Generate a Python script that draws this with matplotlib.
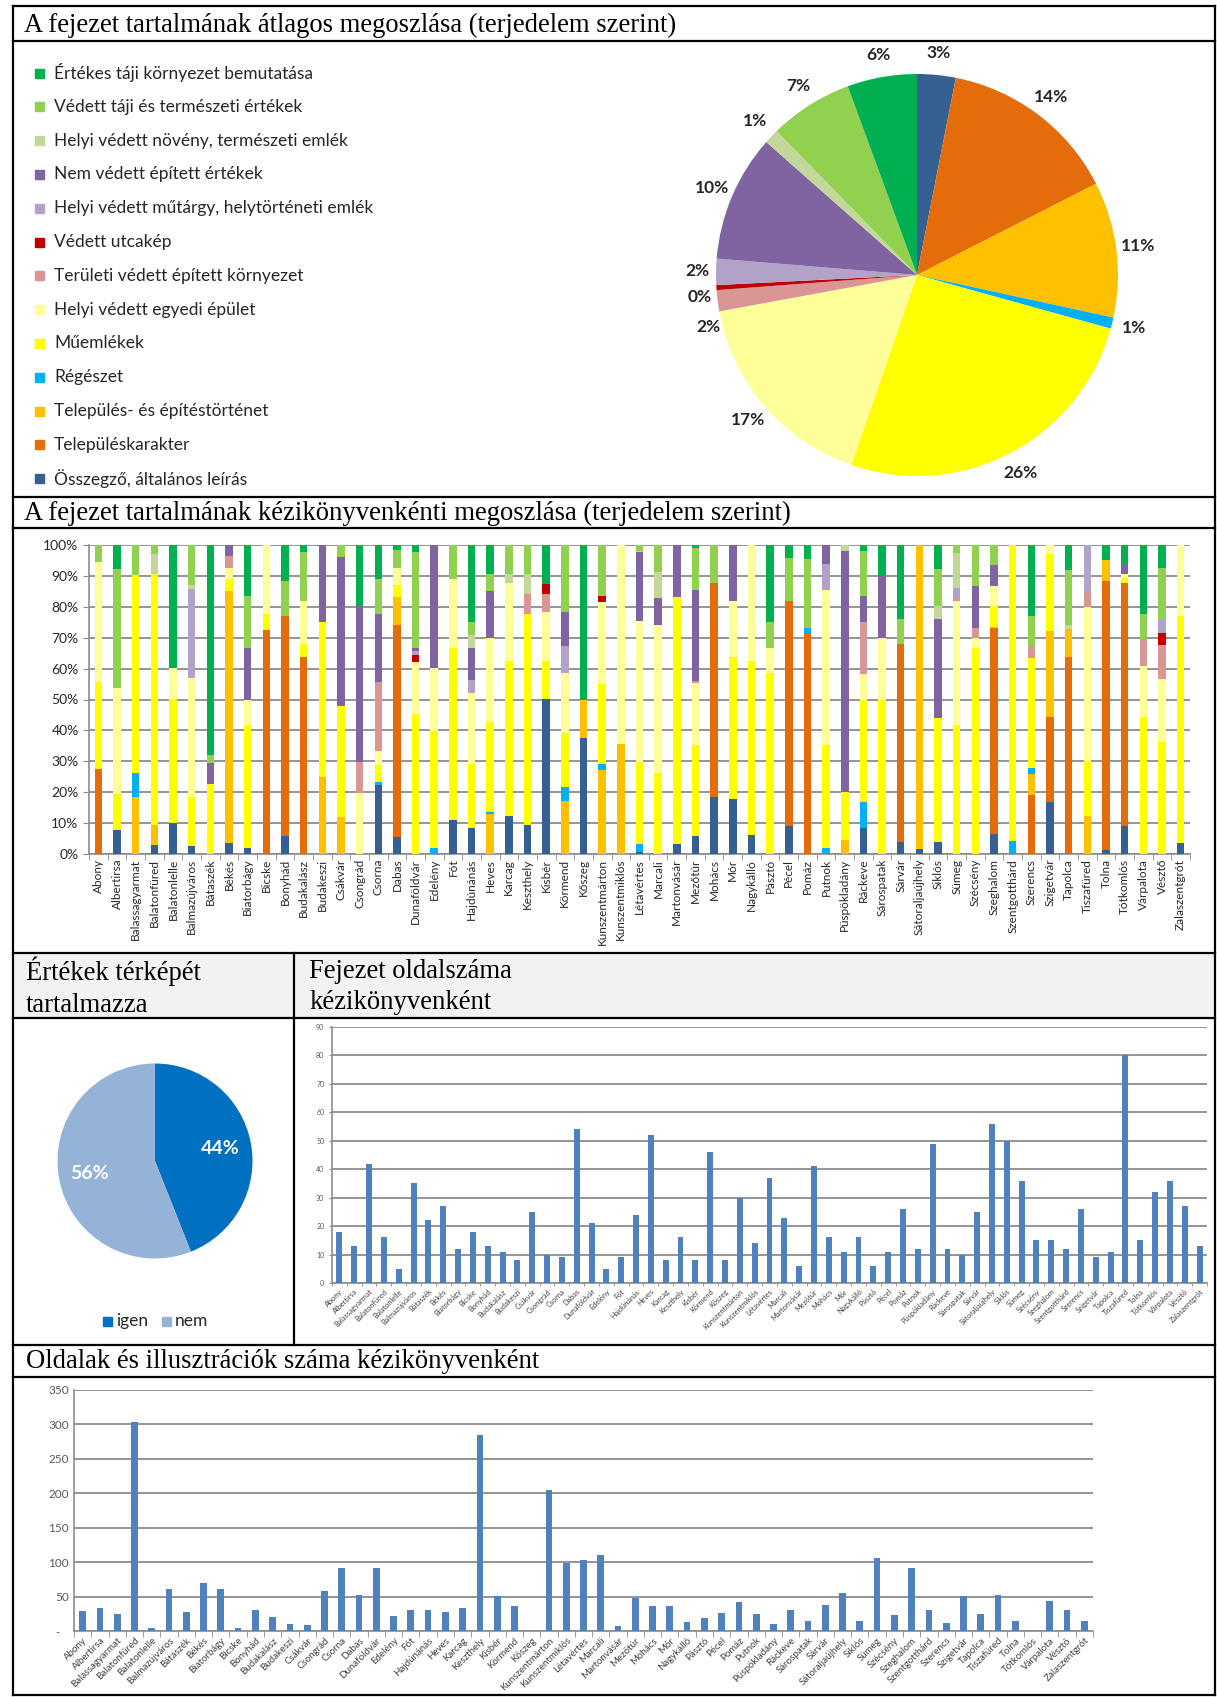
import matplotlib
matplotlib.use("Agg")
import matplotlib.pyplot as plt
from matplotlib.patches import Rectangle
from matplotlib.ticker import FuncFormatter
import numpy as np

W, H = 1217, 1697
plt.rcParams['font.family'] = ['Lato', 'DejaVu Sans']
SERIF = ['Liberation Serif', 'DejaVu Serif']
GRID = '#8c8c8c'
BAR_BLUE = '#4f81bd'
TEXT = '#262626'

towns = ['Abony', 'Albertirsa', 'Balassagyarmat', 'Balatonfüred', 'Balatonlelle',
         'Balmazújváros', 'Bátaszék', 'Békés', 'Biatorbágy', 'Bicske',
         'Bonyhád', 'Budakalász', 'Budakeszi', 'Csákvár', 'Csongrád',
         'Csorna', 'Dabas', 'Dunaföldvár', 'Edelény', 'Fót',
         'Hajdúnánás', 'Heves', 'Karcag', 'Keszthely', 'Kisbér',
         'Körmend', 'Kőszeg', 'Kunszentmárton', 'Kunszentmiklós', 'Létavértes',
         'Marcali', 'Martonvásár', 'Mezőtúr', 'Mohács', 'Mór',
         'Nagykálló', 'Pásztó', 'Pécel', 'Pomáz', 'Putnok',
         'Püspökladány', 'Ráckeve', 'Sárospatak', 'Sárvár', 'Sátoraljaújhely',
         'Siklós', 'Sümeg', 'Szécsény', 'Szeghalom', 'Szentgotthárd',
         'Szerencs', 'Szigetvár', 'Tapolca', 'Tiszafüred', 'Tolna',
         'Tótkomlós', 'Várpalota', 'Vésztő', 'Zalaszentgrót']

# content categories, bottom of the stack first
categories = ['Összegző, általános leírás', 'Településkarakter',
              'Település- és építéstörténet', 'Régészet', 'Műemlékek',
              'Helyi védett egyedi épület', 'Területi védett épített környezet',
              'Védett utcakép', 'Helyi védett műtárgy, helytörténeti emlék',
              'Nem védett épített értékek', 'Helyi védett növény, természeti emlék',
              'Védett táji és természeti értékek', 'Értékes táji környezet bemutatása']
cat_colors = ['#376092', '#e46c0a', '#ffc000', '#00b0f0', '#ffff00',
              '#ffff99', '#da9694', '#c00000', '#b3a2c7', '#8064a2',
              '#c4d79b', '#92d050', '#00b050']

# average share (%) per category, same order
avg_share = [3.1, 14.4, 10.9, 0.9, 26.0, 16.8, 1.7, 0.4, 2.1, 10.2, 1.2, 6.7, 5.6]

# share (%) of each category per handbook
osszegzo = [0, 7.7, 0, 3.0, 9.9, 2.7, 0, 3.6, 1.9, 0,
            5.7, 0, 0, 0, 0, 22.2, 5.5, 0, 0, 10.9,
            8.4, 0, 12.4, 9.3, 50.1, 0, 37.5, 0, 0, 0.6,
            0, 3.2, 5.9, 18.6, 17.9, 6.3, 0, 9.2, 0, 0,
            0, 8.4, 0, 3.9, 1.7, 3.9, 0, 0, 6.5, 0,
            0, 16.7, 0, 0, 1.4, 9.2, 0, 0, 3.6]
telepuleskarakter = [27.6, 0, 0, 0, 0, 0, 0, 0, 0, 72.4,
                     71.3, 63.7, 0, 0, 0, 0, 68.6, 0, 0, 0,
                     0, 0, 0, 0, 0, 0, 0, 0, 0, 0,
                     0, 0, 0, 69.0, 0, 0, 0, 72.8, 71.1, 0,
                     0, 0, 0, 64.2, 0, 0, 0, 0, 66.8, 0,
                     19.2, 27.6, 63.6, 0, 87.0, 78.4, 0, 0, 0]
telepulestortenet = [0, 0, 18.4, 6.3, 0, 0, 0, 81.6, 0, 0,
                     0, 0, 25.0, 11.9, 0, 0, 9.2, 0, 0, 0,
                     0, 13.1, 0, 0, 0, 17.3, 12.5, 27.3, 35.7, 0,
                     0, 0, 0, 0, 0, 0, 0, 0, 0, 0,
                     4.6, 0, 0, 0, 98.3, 0, 0, 0, 0.3, 0,
                     6.8, 27.9, 9.3, 12.4, 6.8, 0, 0, 0, 0]
regeszet = [0, 0, 7.8, 0, 0, 0, 0, 0, 0, 0,
            0, 0, 0, 0, 0, 1.0, 0, 0, 1.9, 0,
            0, 0.6, 0, 0, 0, 4.3, 0, 1.8, 0, 2.6,
            0, 0, 0, 0, 0, 0, 0, 0, 1.9, 1.9,
            0, 8.3, 0, 0, 0, 0, 0, 0, 0, 4.1,
            1.8, 0, 0, 0, 0, 0, 0, 0, 0]
muemlekek = [28.1, 11.6, 64.2, 81.3, 40.2, 15.7, 22.6, 3.8, 39.9, 5.3,
             0, 4.3, 50.1, 35.9, 0, 5.7, 3.8, 45.3, 37.9, 55.7,
             20.7, 28.9, 50.1, 68.3, 12.4, 17.5, 0, 25.9, 0, 26.5,
             26.1, 80.1, 29.4, 0, 45.7, 56.2, 58.5, 0, 0, 33.4,
             15.6, 33.3, 50.0, 0, 0, 40.0, 41.8, 66.6, 6.5, 95.9,
             35.6, 24.9, 0, 17.6, 0, 1.6, 44.3, 36.1, 73.4]
egyedi_epulet = [38.7, 34.4, 0, 0, 10.0, 38.6, 0, 3.6, 8.2, 22.3,
                 0, 14.0, 0, 0, 19.9, 4.3, 5.5, 16.7, 20.3, 22.5,
                 23.0, 27.2, 25.1, 0, 15.7, 19.5, 0, 26.7, 64.3, 45.8,
                 48.1, 0, 20.2, 0, 18.4, 37.5, 8.1, 0, 0, 50.1,
                 0, 8.4, 19.8, 0, 0, 0, 40.2, 3.4, 6.5, 0,
                 0, 2.9, 0, 50.0, 0, 1.4, 16.7, 20.5, 23.0]
teruleti_vedett = [0, 0, 0, 0, 0, 0, 0, 3.7, 0, 0,
                   0, 0, 0, 0, 9.9, 22.4, 0, 0, 0, 0,
                   0, 0, 0, 6.7, 6.0, 0, 0, 0, 0, 0,
                   0, 0, 0.6, 0, 0, 0, 0, 0, 0, 0,
                   0, 16.7, 0, 0, 0, 0, 0.5, 3.2, 0, 0,
                   4.0, 0, 0, 5.1, 0, 0, 8.5, 11.1, 0]
utcakep = [0, 0, 0, 0, 0, 0, 0, 0, 0, 0,
           0, 0, 0, 0, 0, 0, 0, 2.3, 0, 0,
           0, 0, 0, 0, 3.3, 0, 0, 1.7, 0, 0,
           0, 0, 0, 0, 0, 0, 0, 0, 0, 0,
           0, 0, 0, 0, 0, 0, 0, 0, 0, 0,
           0, 0, 0, 0, 0, 0, 0, 3.7, 0]
mutargy = [0, 0, 0, 0, 0, 28.8, 0, 0, 0, 0,
           0, 0, 0, 0, 0, 0, 0, 1.3, 0, 0,
           4.3, 0, 0, 0, 0, 8.7, 0, 0, 0, 0,
           0, 0, 0, 0, 0, 0, 0, 0, 0, 8.3,
           0, 0, 0, 0, 0, 0, 3.7, 0, 0, 0,
           0, 0, 0, 14.9, 0, 0, 0, 4.4, 0]
nem_vedett = [0, 0, 0, 0, 0, 0, 6.9, 3.7, 16.7, 0,
              0, 0, 24.9, 48.3, 50.3, 22.1, 0, 1.1, 39.9, 0,
              10.2, 15.4, 0, 0, 0, 10.9, 0, 0, 0, 22.2,
              8.6, 16.7, 29.3, 0, 18.0, 0, 0, 0, 0, 6.3,
              77.9, 8.3, 20.2, 0, 0, 32.2, 0, 13.5, 7.0, 0,
              0, 0, 0, 0, 0, 3.1, 0, 0, 0]
noveny = [0, 0, 0, 6.5, 0, 1.3, 0, 0, 0, 0,
          0, 0, 0, 0, 0, 0, 0, 0, 0, 0,
          4.3, 0, 3.0, 6.4, 0, 0, 0, 0, 0, 0.5,
          8.6, 0, 0, 0, 0, 0, 0, 0, 0, 0,
          1.9, 0, 0, 0, 0, 4.0, 11.1, 0, 0, 0,
          0, 0, 1.1, 0, 0, 0, 0, 0, 0]
vedett_taji = [5.6, 38.6, 9.6, 2.9, 0, 12.9, 2.4, 0, 16.7, 0,
               11.5, 15.8, 0, 3.9, 0, 11.3, 5.7, 31.1, 0, 10.9,
               4.2, 5.3, 9.4, 9.3, 0, 21.8, 0, 16.6, 0, 1.8,
               8.6, 0, 13.5, 12.4, 0, 0, 8.4, 13.7, 22.4, 0,
               0, 14.7, 0, 8.0, 0, 12.1, 2.7, 13.3, 6.4, 0,
               9.6, 0, 17.9, 0, 0, 0, 8.2, 16.9, 0]
ertekes_taji = [0, 7.7, 0, 0, 39.9, 0, 68.1, 0, 16.6, 0,
                11.5, 2.2, 0, 0, 19.9, 11.0, 1.7, 2.2, 0, 0,
                24.9, 9.5, 0, 0, 12.5, 0, 50.0, 0, 0, 0,
                0, 0, 1.1, 0, 0, 0, 25.0, 4.3, 4.6, 0,
                0, 1.9, 10.0, 23.9, 0, 7.8, 0, 0, 0, 0,
                23.0, 0, 8.1, 0, 4.8, 6.3, 22.3, 7.3, 0]

shares = [osszegzo, telepuleskarakter, telepulestortenet, regeszet, muemlekek,
          egyedi_epulet, teruleti_vedett, utcakep, mutargy, nem_vedett,
          noveny, vedett_taji, ertekes_taji]

map_labels = ['igen', 'nem']
map_share = [44, 56]
map_colors = ['#0070c0', '#95b3d7']

chapter_pages = [18, 13, 42, 16, 5, 35, 22, 27, 12, 18,
                 13, 11, 8, 25, 10, 9, 54, 21, 5, 9,
                 24, 52, 8, 16, 8, 46, 8, 30, 14, 37,
                 23, 6, 41, 16, 11, 16, 6, 11, 26, 12,
                 49, 12, 10, 25, 56, 50, 36, 15, 15, 12,
                 26, 9, 11, 80, 15, 32, 36, 27, 13]

pages_and_figures = [29, 34, 24, 304, 5, 61, 27, 70, 61, 5,
                     31, 21, 10, 9, 58, 92, 52, 91, 22, 31,
                     31, 27, 34, 284, 51, 37, 0, 205, 99, 103,
                     110, 7, 48, 36, 36, 13, 19, 26, 42, 24,
                     10, 31, 15, 38, 55, 15, 106, 23, 92, 30,
                     12, 51, 24, 53, 14, 0, 43, 30, 15]


def px_axes(fig, x0, y0, x1, y1):
    return fig.add_axes([x0 / W, 1 - y1 / H, (x1 - x0) / W, (y1 - y0) / H])


def excel_style(ax, n):
    ax.set_xlim(-0.5, n - 0.5)
    ax.yaxis.grid(True, color=GRID, lw=1.3)
    ax.set_axisbelow(True)
    for side in ('top', 'right'):
        ax.spines[side].set_visible(False)
    for side in ('left', 'bottom'):
        ax.spines[side].set_color(GRID)
        ax.spines[side].set_linewidth(1.2)
    ax.set_xticks(np.arange(n))
    ax.set_xticks(np.arange(n + 1) - 0.5, minor=True)
    ax.tick_params(axis='x', which='major', length=0)
    ax.tick_params(axis='x', which='minor', length=4, color=GRID)
    ax.tick_params(axis='y', length=4, color=GRID)


fig = plt.figure(figsize=(W / 100, H / 100), dpi=100)
fig.patch.set_facecolor('white')

# page frame, section rules and titles
bg = fig.add_axes([0, 0, 1, 1])
bg.set_xlim(0, W)
bg.set_ylim(H, 0)
bg.axis('off')
bg.add_patch(Rectangle((13, 953), 1202, 65, color='#f2f2f2', lw=0))
for y in (6, 41, 497, 528, 953, 1018, 1345, 1377, 1695):
    bg.plot([13, 1215], [y, y], color='black', lw=1.6)
for x in (13, 1215):
    bg.plot([x, x], [6, 1695], color='black', lw=1.6)
bg.plot([294, 294], [953, 1345], color='black', lw=1.6)

title_kw = dict(family=SERIF, fontsize=19.2, va='center', ha='left', color='black')
bg.text(24, 25, 'A fejezet tartalmának átlagos megoszlása (terjedelem szerint)', **title_kw)
bg.text(24, 513, 'A fejezet tartalmának kézikönyvenkénti megoszlása (terjedelem szerint)', **title_kw)
bg.text(26, 987, 'Értékek térképét\ntartalmazza', linespacing=1.35, **title_kw)
bg.text(309, 987, 'Fejezet oldalszáma\nkézikönyvenként', linespacing=1.35, **title_kw)
bg.text(26, 1362, 'Oldalak és illusztrációk száma kézikönyvenként', **title_kw)

# category legend (top of the list = top of the stack)
for i, (name, color) in enumerate(zip(categories[::-1], cat_colors[::-1])):
    y = 73 + i * 33.8
    bg.add_patch(Rectangle((35, y - 4.5), 9, 9, color=color))
    bg.text(54, y, name, fontsize=12.5, va='center', ha='left', color=TEXT)

# average distribution pie
ax_pie = px_axes(fig, 716, 74, 1118, 476)
wedges, _, pct = ax_pie.pie(avg_share, colors=cat_colors, startangle=90, counterclock=False,
                            autopct='%.0f%%', pctdistance=1.11,
                            textprops=dict(fontsize=12.5, fontweight='bold', color=TEXT))
# spread the labels of the three thin slices on the left
pct[6].set_position((-1.04, -0.26))
pct[7].set_position((-1.08, -0.11))
pct[8].set_position((-1.09, 0.02))
ax_pie.set_xlim(-1, 1)
ax_pie.set_ylim(-1, 1)
ax_pie.set_aspect('equal')

# per-handbook stacked shares
ax_st = px_axes(fig, 89, 545, 1190, 854)
x = np.arange(len(towns))
bottom = np.zeros(len(towns))
for vals, color in zip(shares, cat_colors):
    ax_st.bar(x, vals, 0.4, bottom=bottom, color=color, zorder=3)
    bottom += np.array(vals)
excel_style(ax_st, len(towns))
ax_st.set_ylim(0, 100)
ax_st.set_yticks(np.arange(0, 101, 10))
ax_st.yaxis.set_major_formatter(FuncFormatter(lambda v, p: f'{v:.0f}%'))
ax_st.tick_params(axis='y', labelsize=10, labelcolor=TEXT)
ax_st.set_xticklabels(towns, rotation=90, fontsize=8.5, color=TEXT)

# map pie
ax_map = px_axes(fig, 57.5, 1063.5, 252.5, 1258.5)
_, _, mpct = ax_map.pie(map_share, colors=map_colors, startangle=90, counterclock=False,
                        autopct='%.0f%%', pctdistance=0.68,
                        textprops=dict(fontsize=14, fontweight='bold', color='white'))
ax_map.set_xlim(-1, 1)
ax_map.set_ylim(-1, 1)
ax_map.set_aspect('equal')
for lx, label, color in zip((107, 166), map_labels, map_colors):
    bg.add_patch(Rectangle((lx - 4.5, 1316.5), 9, 9, color=color))
    bg.text(lx + 9, 1321, label, fontsize=12.5, va='center', ha='left', color=TEXT)

# chapter length per handbook
ax_ch = px_axes(fig, 332, 1027, 1207, 1283)
ax_ch.bar(x, chapter_pages, 0.4, color=BAR_BLUE, zorder=3)
excel_style(ax_ch, len(towns))
ax_ch.set_ylim(0, 90)
ax_ch.set_yticks(np.arange(0, 91, 10))
ax_ch.tick_params(axis='y', labelsize=5, labelcolor='#595959', length=2)
ax_ch.tick_params(axis='x', which='minor', length=2)
ax_ch.set_xticklabels(towns, rotation=45, ha='right', rotation_mode='anchor',
                      fontsize=5.3, color='#404040')

# pages and illustrations per handbook
ax_pg = px_axes(fig, 74, 1390, 1093, 1631)
ax_pg.bar(x, pages_and_figures, 0.39, color=BAR_BLUE, zorder=3)
excel_style(ax_pg, len(towns))
ax_pg.set_ylim(0, 350)
ax_pg.set_yticks(np.arange(0, 351, 50))
ax_pg.yaxis.set_major_formatter(FuncFormatter(lambda v, p: '-   ' if v == 0 else f'{v:.0f}'))
ax_pg.tick_params(axis='y', labelsize=8.5, labelcolor='#595959', length=0)
ax_pg.set_xticklabels(towns, rotation=45, ha='right', rotation_mode='anchor',
                      fontsize=7, color='#404040')

fig.savefig('out.png', dpi=100, facecolor='white')
